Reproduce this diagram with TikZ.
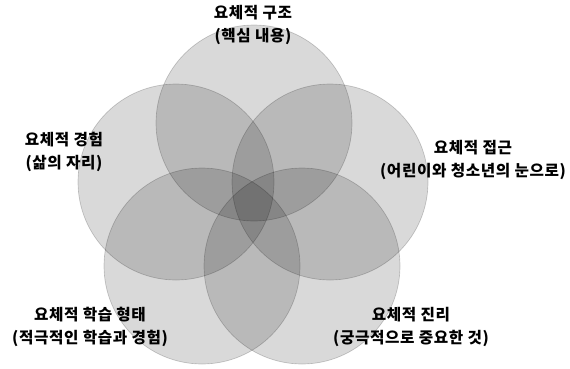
\documentclass[tikz,border=0pt]{standalone}
\usepackage{fontspec}
\newfontfamily\korfont{Noto Sans CJK KR}[LetterSpace=4]
\tikzset{
    circulo/.style={
        circle,
        fill=black,
        fill opacity=0.15,
        draw=black,
        draw opacity=0.2,
        line width=0.5pt,
        minimum size=147pt,
        inner sep=0pt
    },
    rotulo/.style={
        align=center,
        inner sep=0pt,
        font=\korfont\bfseries\fontsize{11.75}{17.25}\selectfont
    }
}

\begin{document}
\begin{tikzpicture}[x=0.75pt, y=-0.75pt]
    \useasboundingbox (0,0) rectangle (570,368);

    % circulos
    \node[circulo] (estrutura) at (254,123) {};
    \node[circulo] (experiencia) at (176,182) {};
    \node[circulo] (abordagem) at (330,182) {};
    \node[circulo] (aprendizagem) at (202,266) {};
    \node[circulo] (verdade) at (302,266) {};

    % rotulos
    \node[rotulo] (tEstrutura) at (253,24.5)
    {요체적 구조\\
     (핵심 내용)};

    \node[rotulo] (tExperiencia) at (64,151.5)
    {요체적 경험\\
     (삶의 자리)};

    \node[rotulo] (tAbordagem) at (473,160)
    {요체적 접근\\
     (어린이와 청소년의 눈으로)};

    \node[rotulo] (tAprendizagem) at (90,326.5)
    {요체적 학습 형태\\
     (적극적인 학습과 경험)};

    \node[rotulo] (tVerdade) at (411,326.5)
    {요체적 진리\\
     (궁극적으로 중요한 것)};
\end{tikzpicture}
\end{document}
